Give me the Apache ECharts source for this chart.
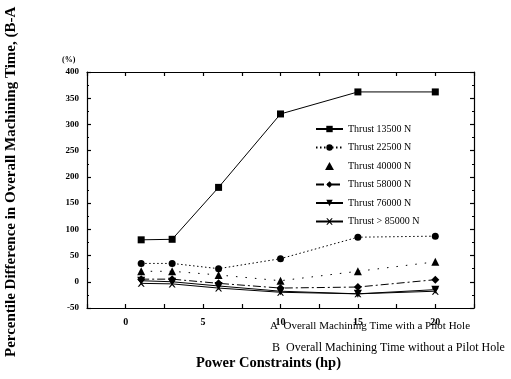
<!DOCTYPE html>
<html>
<head>
<meta charset="utf-8">
<script src="https://cdn.jsdelivr.net/npm/echarts@6/dist/echarts.min.js"></script>
<style>
  html, body { margin: 0; padding: 0; background: #fff; }
  #chart { width: 511px; height: 379px; }
</style>
</head>
<body>
<div id="chart"></div>
<script>
// 功率约束 (hp)
const power = [1, 3, 6, 10, 15, 20];
// 各推力下的百分比差值
const thrust13500 = [80, 81, 180, 320, 362, 362];
const thrust22500 = [35, 35, 25, 44, 85, 87];
const thrust40000 = [20, 20, 13, 2, 20, 38];
const thrust58000 = [5, 5, -3, -12, -10, 4];
const thrust76000 = [2, 0, -8, -18, -23, -15];
const thrust85000 = [-3, -4, -12, -20, -23, -18];
const seriesNames = ['Thrust 13500 N', 'Thrust 22500 N', 'Thrust 40000 N', 'Thrust 58000 N', 'Thrust 76000 N', 'Thrust > 85000 N'];

const chart = echarts.init(document.getElementById('chart'));
const font = 'Liberation Serif';
const pair = arr => power.map((p, i) => [p, arr[i]]);

const crossPath = 'path://M0,0 L2,0 L5,3.5 L8,0 L10,0 L6,5 L10,10 L8,10 L5,6.5 L2,10 L0,10 L4,5 Z';
const downTri = 'path://M0,0 L10,0 L5,9 Z';
const upTri = 'path://M5,0 L10,9 L0,9 Z';

function mk(name, data, symbol, lineType, size) {
  return {
    name: name,
    type: 'line',
    data: pair(data),
    symbol: symbol,
    symbolSize: size || 7,
    lineStyle: { color: '#000', width: 1, type: lineType },
    itemStyle: { color: '#000' }
  };
}

const axisCommon = {
  axisLine: { show: true, onZero: false, lineStyle: { color: '#000', width: 1.2 } },
  axisTick: { inside: true, length: 4, lineStyle: { color: '#000', width: 1.2 } },
  splitLine: { show: false }
};

const option = {
  animation: false,
  grid: { left: 87, right: 37, top: 72, bottom: 71 },
  legend: {
    orient: 'vertical',
    left: 310,
    top: 119,
    itemWidth: 27,
    itemHeight: 8,
    itemGap: 8.5,
    textStyle: { fontFamily: font, fontSize: 10, color: '#000' },
    data: [
      { name: seriesNames[0] },
      { name: seriesNames[1] },
      { name: seriesNames[2], icon: upTri },
      { name: seriesNames[3] },
      { name: seriesNames[4] },
      { name: seriesNames[5] }
    ]
  },
  xAxis: [
    Object.assign({}, axisCommon, {
      type: 'value', min: -2.5, max: 22.5, interval: 2.5,
      axisLabel: {
        color: '#000', fontFamily: font, fontSize: 10, fontWeight: 'bold', margin: 9,
        formatter: v => (v % 5 === 0 ? String(v) : '')
      }
    }),
    Object.assign({}, axisCommon, {
      type: 'value', position: 'top', min: -2.5, max: 22.5, interval: 2.5,
      axisLabel: { show: false }
    })
  ],
  yAxis: [
    Object.assign({}, axisCommon, {
      type: 'value', min: -50, max: 400, interval: 50,
      minorTick: { show: true, splitNumber: 2, length: 2, lineStyle: { color: '#000' } },
      axisLabel: { color: '#000', fontFamily: font, fontSize: 9, fontWeight: 'bold', margin: 8 }
    }),
    Object.assign({}, axisCommon, {
      type: 'value', position: 'right', min: -50, max: 400, interval: 50,
      minorTick: { show: true, splitNumber: 2, length: 2, lineStyle: { color: '#000' } },
      axisLabel: { show: false }
    })
  ],
  graphic: [
    {
      type: 'text', x: 4, y: 357, rotation: Math.PI / 2,
      style: {
        text: 'Percentile Difference in Overall Machining Time, (B-A',
        fontFamily: font, fontSize: 15, fontWeight: 'bold', fill: '#000'
      }
    },
    {
      type: 'text', x: 62, y: 56,
      style: { text: '(%)', fontFamily: font, fontSize: 8, fontWeight: 'bold', fill: '#000' }
    },
    {
      type: 'text', x: 270, y: 321,
      style: { text: 'A  Overall Machining Time with a Pilot Hole', fontFamily: font, fontSize: 11, fill: '#000' }
    },
    {
      type: 'text', x: 272, y: 342,
      style: { text: 'B  Overall Machining Time without a Pilot Hole', fontFamily: font, fontSize: 12, fill: '#000' }
    },
    {
      type: 'text', x: 196, y: 356,
      style: { text: 'Power Constraints (hp)', fontFamily: font, fontSize: 14.5, fontWeight: 'bold', fill: '#000' }
    }
  ],
  series: [
    mk(seriesNames[0], thrust13500, 'rect', 'solid', 7),
    mk(seriesNames[1], thrust22500, 'circle', [1.5, 2.5], 7),
    mk(seriesNames[2], thrust40000, upTri, [1.5, 8], 8),
    mk(seriesNames[3], thrust58000, 'diamond', [8, 3, 2, 3], 8),
    mk(seriesNames[4], thrust76000, downTri, 'solid', 8),
    mk(seriesNames[5], thrust85000, crossPath, 'solid', 7)
  ]
};

chart.setOption(option);
</script>
</body>
</html>
